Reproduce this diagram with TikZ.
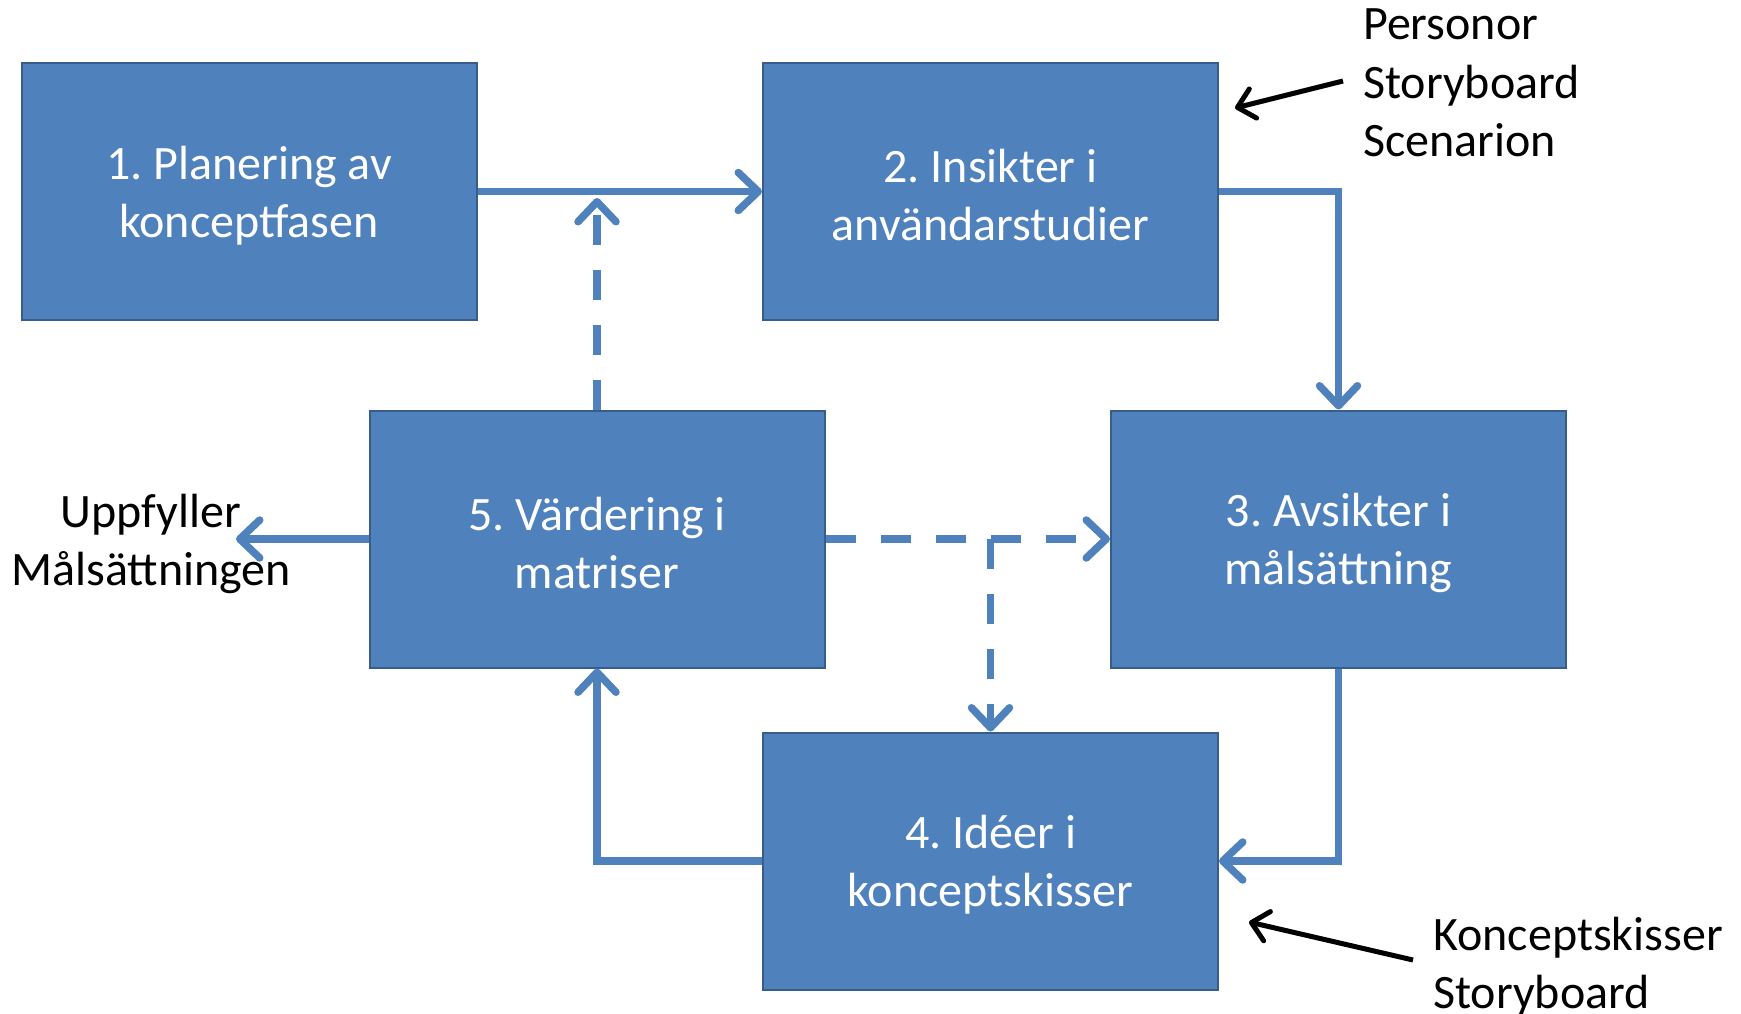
\documentclass[tikz,border=0pt]{standalone}
\usepackage{fontspec}
\setmainfont{Carlito}
\frenchspacing
\usetikzlibrary{arrows.meta}
\definecolor{boxfill}{HTML}{4F81BD}
\definecolor{boxline}{HTML}{385D8A}
\newcommand{\topstrut}{\rule{0pt}{41pt}}
\begin{document}
\begin{tikzpicture}[x=1pt,y=-1pt,
 box/.style={draw=boxline,line width=2pt,fill=boxfill,minimum width=455pt,minimum height=257pt,inner sep=0pt,text=white,align=center,font=\fontsize{48}{58}\selectfont},
 flow/.style={draw=boxfill,line width=7.5pt,-{Straight Barb[length=20pt,width=38pt,round]}},
 dflow/.style={flow,dash pattern=on 30pt off 25pt},
 note/.style={anchor=base west,inner sep=0pt,font=\fontsize{48}{58}\selectfont},
 pointer/.style={draw=black,line width=5pt,-{Straight Barb[length=16pt,width=30pt,round]}}]
\useasboundingbox (0,0) rectangle (1741,1014);
\node[box] (b1) at (249,191.5) {\topstrut1. Planering av\\konceptfasen};
\node[box] (b2) at (990.5,191.5) {\topstrut2. Insikter i\\användarstudier};
\node[box] (b3) at (1338.5,539) {\topstrut3. Avsikter i\\målsättning};
\node[box] (b4) at (990.5,861) {\topstrut4. Idéer i\\konceptskisser};
\node[box] (b5) at (597,539) {\topstrut5. Värdering i\\matriser};
\coordinate (up) at (597,198);
\coordinate (out) at (236,539);
\coordinate (split) at (990.5,539);
\draw[flow] (b1.east) -- (b2.west);
\draw[flow] (b2.east) -| (b3.north);
\draw[flow] (b3.south) |- (b4.east);
\draw[flow] (b4.west) -| (b5.south);
\draw[flow] (b5.west) -- (out);
\draw[dflow] (b5.north) -- (up);
\draw[dflow] (b5.east) -- (b3.west);
\draw[dflow] (split) -- (b4.north);
\node[note] (p1) at (1363,40) {Personor};
\node[note] (p2) at (1363,99) {Storyboard};
\node[note] (p3) at (1363,157) {Scenarion};
\node[note,anchor=base] (u1) at (151,527) {Uppfyller};
\node[note,anchor=base] (u2) at (151,585) {Målsättningen};
\node[note] (k1) at (1433,950) {Konceptskisser};
\node[note] (k2) at (1433,1008) {Storyboard};
\coordinate (a1s) at (1343,81);
\coordinate (a1e) at (1235,108);
\coordinate (a2s) at (1413,960);
\coordinate (a2e) at (1249,922);
\draw[pointer] (a1s) -- (a1e);
\draw[pointer] (a2s) -- (a2e);
\end{tikzpicture}
\end{document}
